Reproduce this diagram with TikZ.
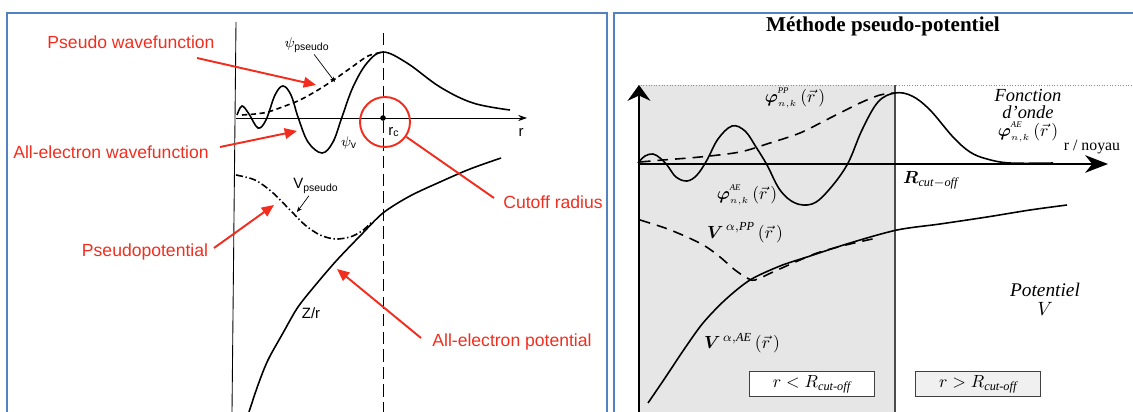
\documentclass[tikz,border=0pt]{standalone}
\usepackage{amsmath}
\usepackage{amssymb}
\usepackage{fontspec}
\setmainfont{Liberation Serif}
\setsansfont{Liberation Sans}
\usetikzlibrary{positioning,arrows.meta}
\definecolor{frameblue}{RGB}{84,130,190}
\definecolor{notered}{RGB}{242,45,30}
\definecolor{zonegray}{RGB}{230,230,230}
\newcommand{\phink}[1]{$\boldsymbol{\varphi}^{\raisebox{1.5pt}{$\scriptscriptstyle\mathit{#1}$}}_{\scriptscriptstyle n,k}\,(\vec{r}\,)$}

\begin{document}
\begin{tikzpicture}[x=0.02cm, y=-0.02cm,
  every node/.style={inner sep=1pt},
  panel/.style={draw=frameblue, line width=1.5pt},
  note/.style={text=notered, font=\sffamily\fontsize{10}{12}\selectfont},
  notearr/.style={-{Triangle[length=7pt,width=6pt]}, draw=notered, line width=1.1pt},
  scanlbl/.style={font=\sffamily\fontsize{8.5}{10}\selectfont},
  leader/.style={-{Stealth[length=3pt,width=2.5pt]}, line width=0.4pt},
  wave/.style={line width=0.9pt},
  axisarr/.style={line width=1.1pt},
  serlbl/.style={font=\fontsize{10}{11}\selectfont},
  zonebox/.style={draw=black!75, line width=0.6pt, minimum width=71pt,
                  minimum height=14pt, font=\fontsize{10}{11}\selectfont\itshape}]

\useasboundingbox (0,0) rectangle (1133,412);
\clip (0,0) rectangle (1133,412);

%% frames
\draw[panel] (7,13) rectangle (607,440);
\draw[panel] (614,13) rectangle (1145,440);

%% ---------- left panel ----------
\draw[line width=0.5pt] (236,22) -- (232,412);
\draw[line width=0.5pt, -{Stealth[length=5pt,width=3.5pt]}] (236,118) -- (527,118);
\draw[line width=0.5pt, dashed, dash pattern=on 7pt off 3pt] (383,33) -- (383,412);
\fill (383,118) circle (1.6pt);

% wavefunctions
\draw[wave] plot[smooth, tension=0.6] coordinates {(237,115) (242,106) (249,114) (258,128)
  (266,120) (275,95) (283,86) (291,95) (298,117) (308,142) (322,153) (333,142) (342,117)
  (353,87) (367,63) (383,52) (407,63) (440,87) (473,103) (510,110)};
\draw[wave, dashed, dash pattern=on 3pt off 2pt] plot[smooth] coordinates {(242,115) (255,114)
  (268,112) (285,106) (300,100) (318,90) (335,79) (352,67) (368,56) (383,52)};

% potentials
\draw[wave, dash pattern=on 4pt off 1.5pt on 0.8pt off 1.5pt] plot[smooth] coordinates {(236,175)
  (255,180) (272,192) (290,210) (305,225) (320,235) (335,239) (350,237) (362,231) (373,221)};
\draw[wave] plot[smooth] coordinates {(249,412) (258,385) (268,360) (283,333) (298,307)
  (318,282) (337,260) (360,236) (383,213) (410,196) (440,182) (470,169) (501,158)};

\node[scanlbl] (psips) at (307,45) {$\psi_{\mathsf{pseudo}}$};
\node[scanlbl] (psiv)  at (349,143) {$\psi_{\mathsf{v}}$};
\node[scanlbl] (raxis) at (521,132) {r};
\node[scanlbl] (rc)    at (394,132) {r$_{\mathsf{c}}$};
\node[scanlbl] (vps)   at (316,186) {V$_{\mathsf{pseudo}}$};
\node[scanlbl] (zr)    at (311,313) {Z/r};
\coordinate (psipsT) at (335,82);
\coordinate (vpsT) at (297,212);
\draw[leader] (psips) -- (psipsT);
\draw[leader] (vps) -- (vpsT);

% red annotations
\node[note] (pw)  at (131,42)  {Pseudo wavefunction};
\node[note] (aew) at (111,152) {All-electron wavefunction};
\node[note] (pp)  at (145,252) {Pseudopotential};
\node[note] (cr)  at (553,202) {Cutoff radius};
\node[note] (aep) at (512,342) {All-electron potential};
\node[draw=notered, line width=1.1pt, circle, inner sep=0pt, minimum size=1cm] (rcring) at (385,122) {};
\coordinate (pwA) at (197,58);   \coordinate (pwB) at (316,85);
\coordinate (aewA) at (220,147); \coordinate (aewB) at (297,131);
\coordinate (ppA) at (214,248);  \coordinate (ppB) at (274,205);
\coordinate (crA) at (494,198);
\coordinate (aepA) at (421,338); \coordinate (aepB) at (337,269);
\draw[notearr] (pwA) -- (pwB);
\draw[notearr] (aewA) -- (aewB);
\draw[notearr] (ppA) -- (ppB);
\draw[notearr] (aepA) -- (aepB);
\draw[draw=notered, line width=1.1pt] (crA) -- (rcring);

%% ---------- right panel ----------
\node[font=\fontsize{12}{14}\selectfont\bfseries] (title) at (883,26) {Méthode pseudo-potentiel};

\fill[zonegray] (638,85) rectangle (895,412);
\draw[black!45, densely dotted, line width=0.5pt] (638,85) -- (1133,85);
\draw[black!70, line width=0.6pt] (895,85) -- (895,412);

\draw[axisarr, -{Stealth[length=9pt,width=13pt,inset=3pt]}] (639,412) -- (639,85);
\draw[axisarr, -{Stealth[length=13pt,width=10pt,inset=4pt]}] (638,164) -- (1108,164);

\draw[wave] plot[smooth, tension=0.6] coordinates {(638,163) (645,156) (653,154) (660,158)
  (667,165) (676,177) (687,181) (697,175) (707,160) (718,139) (732,126) (745,131) (756,147)
  (767,165) (780,190) (795,203) (812,204) (827,192) (847,165) (862,130) (878,102) (895,93)
  (912,96) (930,110) (953,137) (970,152) (987,159) (1010,163) (1053,163)};
\draw[wave, dashed, dash pattern=on 6pt off 4pt] plot[smooth] coordinates {(640,162) (663,160)
  (700,157) (740,152) (770,143) (800,133) (830,118) (860,103) (880,95) (895,93)};

\draw[wave] plot[smooth] coordinates {(648,403) (665,378) (685,348) (703,323) (725,300)
  (750,280) (780,266) (807,257) (850,243) (897,230) (940,224) (987,217) (1030,210) (1067,205)};
\draw[wave, dashed, dash pattern=on 6pt off 4pt] plot[smooth] coordinates {(640,220) (665,228)
  (687,237) (705,246) (720,257) (735,270) (747,278) (755,280) (773,272) (800,260) (820,252)
  (850,244) (877,238)};

\node[serlbl] (phipp) at (795,98)  {\phink{PP}};
\node[serlbl] (phiae) at (747,195) {\phink{AE}};
\node[serlbl, anchor=west] (rcut) at (901,180) {$\boldsymbol{R}_{\mathit{cut-off}}$};
\node[align=center, font=\fontsize{10.5}{10}\selectfont\itshape] (fonde) at (1028,104)
  {Fonction\\d'onde};
\node[serlbl, below=-1pt of fonde] (phifo) {\phink{AE}};
\node[font=\fontsize{9}{10}\selectfont] (noyau) at (1092,147) {r / noyau};
\node[serlbl] (vpp) at (745,233) {$\boldsymbol{V}^{\,\alpha,\mathit{PP}}\,(\vec{r}\,)$};
\node[serlbl] (vae) at (742,343) {$\boldsymbol{V}^{\,\alpha,\mathit{AE}}\,(\vec{r}\,)$};
\node[align=center, font=\fontsize{11}{11}\selectfont\itshape] (potv) at (1045,299) {Potentiel\\$V$};

\node[zonebox, fill=white] (inner) at (812,384) {$r < R_{\mathit{cut\text{-}off}}$};
\node[zonebox, fill=black!6, right=23pt of inner] (outer) {$r > R_{\mathit{cut\text{-}off}}$};
\end{tikzpicture}
\end{document}
